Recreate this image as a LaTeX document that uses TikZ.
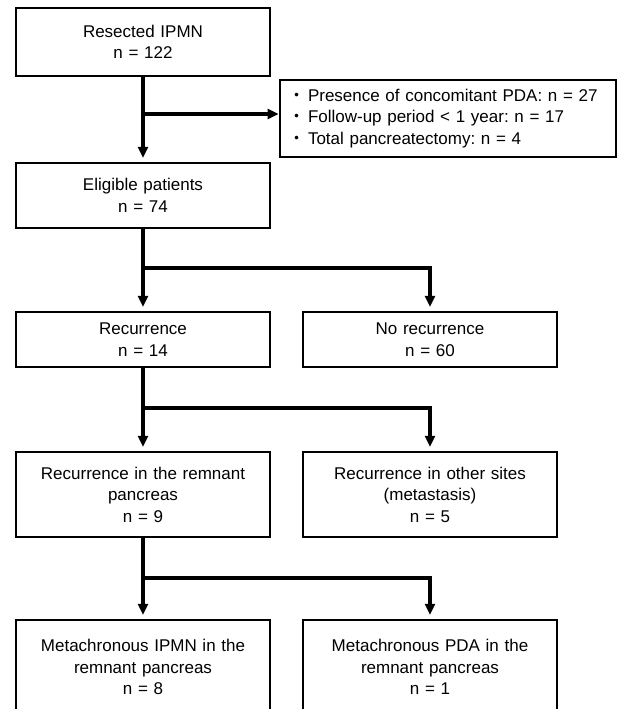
\documentclass[tikz,border=0pt]{standalone}
\usepackage{fontspec}
\setmainfont{Liberation Sans}
\newfontfamily\cjk{Noto Sans CJK JP}
\usetikzlibrary{arrows.meta}
\frenchspacing

% bullet of the exclusion list
\newcommand{\bul}{{\cjk ・}\hspace{3pt}}

\begin{document}
\begin{tikzpicture}[x=1pt, y=-1pt,
  box/.style={draw, line width=1.4pt, minimum width=254pt, text width=244pt,
    align=center, inner sep=0pt, font=\fontsize{17}{21.5}\selectfont},
  flow/.style={line width=3.4pt, -{Triangle[length=11pt,width=10pt]},
    shorten >=4.5pt}]
  \useasboundingbox (0,0) rectangle (617,709);
  \clip (0,0) rectangle (617,709);

  \node[box, minimum height=68pt] (resected) at (143,42) {Resected IPMN\\n = 122};
  \node[box, minimum width=336pt, minimum height=77pt, text width=320pt,
    align=left, inner xsep=8pt] (excluded) at (448,118.5)
    {\bul Presence of concomitant PDA: n = 27\\
     \bul Follow-up period < 1 year: n = 17\\
     \bul Total pancreatectomy: n = 4};
  \node[box, minimum height=65pt] (eligible) at (143,195.5) {Eligible patients\\n = 74};

  \node[box, minimum height=55pt] (recur) at (143,339.5) {Recurrence\\n = 14};
  \node[box, minimum height=55pt] (norecur) at (430,339.5) {No recurrence\\n = 60};

  \node[box, minimum height=85pt] (remnant) at (143,494.5)
    {Recurrence in the remnant\\pancreas\\n = 9};
  \node[box, minimum height=85pt] (other) at (430,494.5)
    {Recurrence in other sites\\(metastasis)\\n = 5};

  \node[box, minimum height=94pt] (ipmn) at (143,667)
    {Metachronous IPMN in the\\remnant pancreas\\n = 8};
  \node[box, minimum height=94pt] (pda) at (430,667)
    {Metachronous PDA in the\\remnant pancreas\\n = 1};

  % junctions on the trunk
  \coordinate (j1) at (143,114);
  \coordinate (j2) at (143,268);
  \coordinate (j3) at (143,408);
  \coordinate (j4) at (143,578);

  \draw[flow] (resected) -- (eligible);
  \draw[flow, shorten >=0.7pt] (j1) -- (excluded.west |- j1);

  \draw[flow] (eligible) -- (recur);
  \draw[flow] (j2) -| (norecur);

  \draw[flow] (recur) -- (remnant);
  \draw[flow] (j3) -| (other);

  \draw[flow] (remnant) -- (ipmn);
  \draw[flow] (j4) -| (pda);
\end{tikzpicture}
\end{document}
